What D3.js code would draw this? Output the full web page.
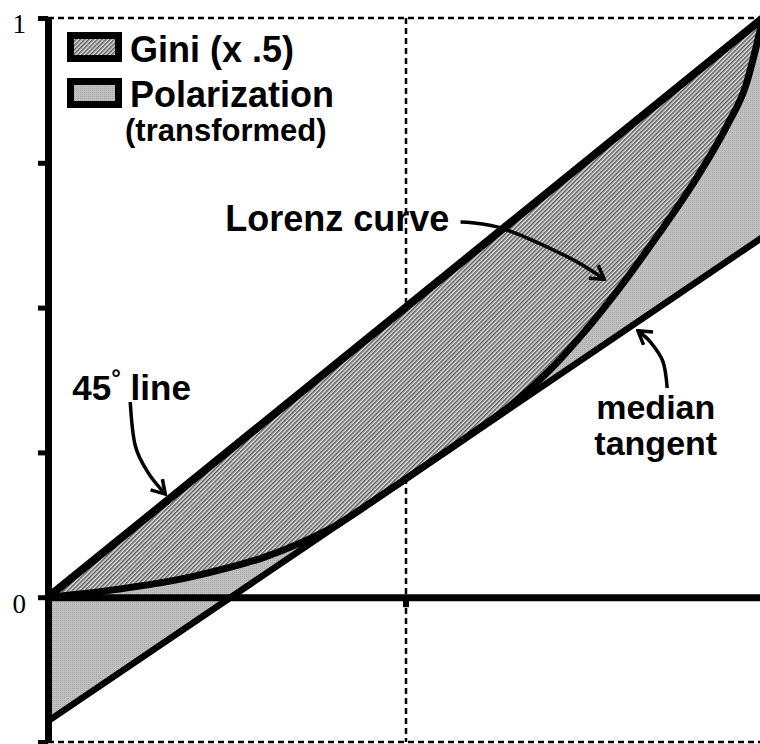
<!DOCTYPE html>
<html>
<head>
<meta charset="utf-8">
<script src="https://cdn.jsdelivr.net/npm/d3@7"></script>
<style>
  body { margin: 0; background: white; }
  svg { display: block; }
  .bold { font-family: "Liberation Sans", Arial, sans-serif; font-weight: bold; fill: black; }
</style>
</head>
<body>
<div id="container"></div>
<script>
/* DATA */
const xDomain = [0, 1],
  yDomain = [-0.25, 1];
const yTicks = [-0.25, 0, 0.25, 0.5, 0.75, 1];
const yTickLabels = { "0": "0", "1": "1" };
const xTicks = [0.5];

// Lorenz curve
const lorenzX = [0, 0.1, 0.2, 0.25, 0.3, 0.35, 0.4, 0.45, 0.5, 0.55, 0.6, 0.65, 0.7, 0.75, 0.8, 0.85, 0.9, 0.95, 0.975, 1];
const lorenzY = [0, 0.014, 0.035, 0.05, 0.068, 0.092, 0.122, 0.162, 0.204, 0.246, 0.289, 0.334, 0.39, 0.458, 0.535, 0.62, 0.71, 0.815, 0.88, 1];

// 45 degree line and median tangent (end points)
const diagX = [0, 1], diagY = [0, 1];
const tangentX = [0, 1], tangentY = [-0.214, 0.622];

const legendLabels = ["Gini (x .5)", "Polarization", "(transformed)"];
const noteLabels = ["Lorenz curve", "45", "°", " line", "median", "tangent"];

/* CONSTANTS */
const width = 760,
  height = 744;

const svg = d3.select("#container")
  .append("svg")
  .attr("width", width)
  .attr("height", height);

/* SCALES */
const x = d3.scaleLinear().domain(xDomain).range([48, 763]);
const y = d3.scaleLinear().domain(yDomain).range([742, 18]);

const diag = d3.scaleLinear().domain(diagX).range(diagY);
const tangent = d3.scaleLinear().domain(tangentX).range(tangentY);

const lorenz = lorenzX.map((v, i) => ({ x: v, l: lorenzY[i] }));

/* PATTERNS */
const defs = svg.append("defs");

const giniPat = defs.append("pattern")
  .attr("id", "gini")
  .attr("width", 3).attr("height", 3)
  .attr("patternUnits", "userSpaceOnUse")
  .attr("patternTransform", "rotate(45)");
giniPat.append("rect").attr("width", 3).attr("height", 3).attr("fill", "#e4e4e4");
giniPat.append("line")
  .attr("x1", 0.75).attr("x2", 0.75).attr("y1", 0).attr("y2", 3)
  .attr("stroke", "#5a5a5a").attr("stroke-width", 1.5);

const polPat = defs.append("pattern")
  .attr("id", "pol")
  .attr("width", 2).attr("height", 2)
  .attr("patternUnits", "userSpaceOnUse");
polPat.append("rect").attr("width", 2).attr("height", 2).attr("fill", "#c0c0c0");
polPat.append("rect").attr("width", 1).attr("height", 1).attr("fill", "#a9a9a9");

defs.append("marker")
  .attr("id", "head")
  .attr("viewBox", "-15 -10 17 20")
  .attr("refX", 0).attr("refY", 0)
  .attr("markerUnits", "userSpaceOnUse")
  .attr("markerWidth", 17).attr("markerHeight", 20)
  .attr("orient", "auto")
  .append("path")
  .attr("d", "M-13,-8 L0,0 L-13,8")
  .attr("fill", "none")
  .attr("stroke", "black")
  .attr("stroke-width", 3.5);

/* DASHED FRAME */
const dash = svg.append("g")
  .attr("stroke", "black")
  .attr("stroke-width", 2.5)
  .attr("stroke-dasharray", "6,4");

dash.append("line")
  .attr("x1", x(0)).attr("x2", x(1))
  .attr("y1", y(1)).attr("y2", y(1));
dash.append("line")
  .attr("x1", x(0)).attr("x2", x(1))
  .attr("y1", y(-0.25)).attr("y2", y(-0.25));
dash.append("line")
  .attr("x1", Math.round(x(0.5))).attr("x2", Math.round(x(0.5)))
  .attr("y1", y(1)).attr("y2", y(-0.25));

/* AREAS */
const giniArea = d3.area()
  .x(d => x(d.x))
  .y0(d => y(d.l))
  .y1(d => y(diag(d.x)))
  .curve(d3.curveMonotoneX);

const polArea = d3.area()
  .x(d => x(d.x))
  .y0(d => y(tangent(d.x)))
  .y1(d => y(d.l))
  .curve(d3.curveMonotoneX);

svg.append("path").datum(lorenz).attr("d", polArea).attr("fill", "url(#pol)");
svg.append("path").datum(lorenz).attr("d", giniArea).attr("fill", "url(#gini)");

/* LINES */
svg.append("line")
  .attr("x1", x(tangentX[0])).attr("y1", y(tangentY[0]))
  .attr("x2", x(tangentX[1])).attr("y2", y(tangentY[1]))
  .attr("stroke", "black").attr("stroke-width", 6.5);

svg.append("path")
  .datum(lorenz)
  .attr("d", d3.line().x(d => x(d.x)).y(d => y(d.l)).curve(d3.curveMonotoneX))
  .attr("fill", "none")
  .attr("stroke", "black")
  .attr("stroke-width", 7);

svg.append("line")
  .attr("x1", x(diagX[0])).attr("y1", y(diagY[0]))
  .attr("x2", x(diagX[1])).attr("y2", y(diagY[1]))
  .attr("stroke", "black").attr("stroke-width", 8);

/* AXES */
const yAxis = svg.append("g")
  .attr("transform", `translate(${x(0)},0)`)
  .call(d3.axisLeft(y)
    .tickValues(yTicks)
    .tickSize(10)
    .tickSizeOuter(0)
    .tickPadding(12)
    .tickFormat(d => yTickLabels[String(d)] || ""));
yAxis.select(".domain").attr("stroke-width", 7);
yAxis.selectAll(".tick line").attr("stroke-width", 5);
yAxis.selectAll(".tick text")
  .attr("dy", "0.55em")
  .style("font-family", "'Liberation Serif', 'Times New Roman', serif")
  .style("font-size", "27px");

const xAxis = svg.append("g")
  .attr("transform", `translate(0,${y(0)})`)
  .call(d3.axisBottom(x)
    .tickValues(xTicks)
    .tickSize(10)
    .tickSizeOuter(0)
    .tickFormat(""));
xAxis.select(".domain").attr("stroke-width", 7);
xAxis.selectAll(".tick line").attr("stroke-width", 6);

/* LEGEND */
const legend = svg.append("g");
legend.append("rect")
  .attr("x", 70.5).attr("y", 35.5).attr("width", 48).attr("height", 23)
  .attr("fill", "url(#gini)").attr("stroke", "black").attr("stroke-width", 7);
legend.append("rect")
  .attr("x", 70.5).attr("y", 81.5).attr("width", 48).attr("height", 23)
  .attr("fill", "url(#pol)").attr("stroke", "black").attr("stroke-width", 7);
legend.append("text").attr("class", "bold")
  .attr("x", 130).attr("y", 62).style("font-size", "36px").text(legendLabels[0]);
legend.append("text").attr("class", "bold")
  .attr("x", 130).attr("y", 107).style("font-size", "36px").text(legendLabels[1]);
legend.append("text").attr("class", "bold")
  .attr("x", 125).attr("y", 141).style("font-size", "31px").text(legendLabels[2]);

/* ANNOTATIONS */
const arrow = d3.line().x(d => x(d[0])).y(d => y(d[1])).curve(d3.curveCardinal);

svg.append("text").attr("class", "bold")
  .attr("x", x(0.248)).attr("y", y(0.632))
  .style("font-size", "36px")
  .text(noteLabels[0]);
svg.append("path")
  .attr("d", arrow([[0.577, 0.648], [0.635, 0.637], [0.726, 0.588], [0.778, 0.549]]))
  .attr("fill", "none").attr("stroke", "black").attr("stroke-width", 3.5)
  .attr("marker-end", "url(#head)");

const t45 = svg.append("text").attr("class", "bold")
  .attr("x", x(0.034)).attr("y", y(0.341))
  .style("font-size", "35px");
t45.append("tspan").text(noteLabels[1]);
t45.append("tspan").attr("dy", -14).style("font-size", "24px").text(noteLabels[2]);
t45.append("tspan").attr("dy", 14).text(noteLabels[3]);
svg.append("path")
  .attr("d", arrow([[0.115, 0.337], [0.122, 0.262], [0.14, 0.215], [0.164, 0.178]]))
  .attr("fill", "none").attr("stroke", "black").attr("stroke-width", 3.5)
  .attr("marker-end", "url(#head)");

svg.append("text").attr("class", "bold")
  .attr("x", x(0.85)).attr("y", y(0.307))
  .attr("text-anchor", "middle")
  .style("font-size", "34px")
  .text(noteLabels[4]);
svg.append("text").attr("class", "bold")
  .attr("x", x(0.85)).attr("y", y(0.245))
  .attr("text-anchor", "middle")
  .style("font-size", "34px")
  .text(noteLabels[5]);
svg.append("path")
  .attr("d", arrow([[0.866, 0.361], [0.86, 0.407], [0.843, 0.44], [0.825, 0.46]]))
  .attr("fill", "none").attr("stroke", "black").attr("stroke-width", 3.5)
  .attr("marker-end", "url(#head)");
</script>
</body>
</html>
